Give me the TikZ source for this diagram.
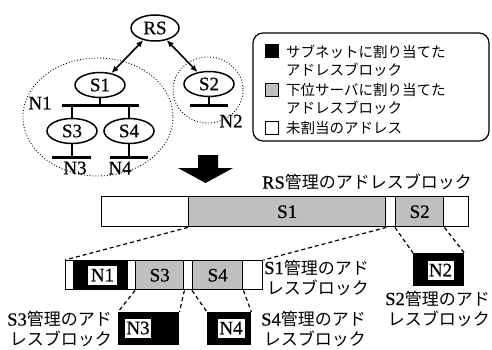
\documentclass[tikz,border=0pt]{standalone}
\usepackage{fontspec}
\setmainfont{Liberation Serif}[FakeBold=0.6]
\newfontfamily\jpf{Noto Sans CJK JP}
\usetikzlibrary{arrows.meta,shapes.geometric}
\newcommand\jl[2]{{\fontsize{18.5}{20}\selectfont #1}{\jpf\fontsize{17}{20}\selectfont #2}}
\newcommand\jr[1]{{\jpf\fontsize{17}{20}\selectfont #1}}
\begin{document}
\begin{tikzpicture}[x=1pt,y=-1pt,
  srv/.style={draw, ellipse, line width=1.5pt, minimum width=50pt, minimum height=25pt, inner sep=0pt, font=\fontsize{19}{19}\selectfont},
  bus/.style={line width=3pt},
  stem/.style={line width=2.2pt},
  twoway/.style={{Latex[length=7pt,width=6pt]}-{Latex[length=7pt,width=6pt]}, line width=1.6pt},
  zone/.style={draw, dotted, line width=0.9pt},
  tname/.style={inner sep=0pt, font=\fontsize{19}{19}\selectfont},
  seg/.style={draw, line width=1.4pt, anchor=north west, inner sep=0pt, minimum height=30pt, font=\fontsize{19}{19}\selectfont},
  sub/.style={fill=black!25},
  free/.style={fill=white},
  net/.style={fill=black},
  tag/.style={fill=white, inner sep=0pt, minimum height=19pt, font=\fontsize{19}{19}\selectfont},
  cut/.style={dash pattern=on 4pt off 3pt, line width=1.2pt},
  lab/.style={align=right, inner sep=0pt, anchor=east, font=\fontsize{17}{20}\selectfont},
  key/.style={draw, line width=1pt, minimum size=13pt, inner sep=0pt},
  ltext/.style={align=left, anchor=west, inner sep=0pt, font=\jpf\fontsize{14.5}{18.5}\selectfont}
]
\useasboundingbox (0,0) rectangle (492,350);

% ---- tree ----
\draw[zone] (98,117) ellipse [x radius=75, y radius=59];
\draw[zone] (208,90) ellipse [x radius=35, y radius=33];

\node[srv, minimum width=48pt, minimum height=26pt] (RS) at (155,28) {RS};
\node[srv] (S1) at (100,85) {S1};
\node[srv] (S2) at (209,84) {S2};
\node[srv] (S3) at (72,131) {S3};
\node[srv] (S4) at (129,131) {S4};

\draw[twoway] (RS) -- (S1);
\draw[twoway] (RS) -- (S2);

\coordinate (n1L) at (62,106);  \coordinate (n1R) at (139,106);
\coordinate (n2L) at (190,106); \coordinate (n2R) at (228,106);
\coordinate (n3L) at (52,157);  \coordinate (n3R) at (91,157);
\coordinate (n4L) at (110,157); \coordinate (n4R) at (148,157);

\draw[bus] (n1L) -- (n1R);
\draw[bus] (n2L) -- (n2R);
\draw[bus] (n3L) -- (n3R);
\draw[bus] (n4L) -- (n4R);
\draw[stem] (S1.south) -- (S1.south |- n1L);
\draw[stem] (S3.north) -- (S3.north |- n1L);
\draw[stem] (S4.north) -- (S4.north |- n1L);
\draw[stem] (S2.south) -- (S2.south |- n2L);
\draw[stem] (S3.south) -- (S3.south |- n3L);
\draw[stem] (S4.south) -- (S4.south |- n4L);

\node[tname] (N1) at (40,103) {N1};
\node[tname] (N2) at (231,121) {N2};
\node[tname] (N3) at (75,168) {N3};
\node[tname] (N4) at (120,168) {N4};

% ---- big arrow ----
\fill (198,155) -- (218,155) -- (218,168) -- (233,168) -- (205.5,183) -- (178,168) -- (198,168) -- cycle;

% ---- legend ----
\draw[line width=1.2pt, rounded corners=10pt] (253,33) rectangle (489,141);
\node[key, fill=black] (k1) at (271.5,51.5) {};
\node[key, sub] (k2) at (271.5,90.5) {};
\node[key, free] (k3) at (271.5,127.5) {};
\node[ltext] (l1) at (286,61) {サブネットに割り当てた\\アドレスブロック};
\node[ltext] (l2) at (286,99) {下位サーバに割り当てた\\アドレスブロック};
\node[ltext] (l3) at (286,127.5) {未割当のアドレス};

% ---- RS block ----
\node[inner sep=0pt, anchor=west] (rslab) at (262,182) {\jl{RS}{管理のアドレスブロック}};
\node[seg, free, minimum width=87pt] (tA) at (101,196) {};
\node[seg, sub, minimum width=197pt] (tS1) at (188,196) {S1};
\node[seg, free, minimum width=10pt] (tB) at (385,196) {};
\node[seg, sub, minimum width=48pt] (tS2) at (395,196) {S2};
\node[seg, free, minimum width=25pt] (tC) at (443,196) {};

% ---- S1 block ----
\node[seg, free, minimum width=8pt, minimum height=29pt] (bA) at (65,260) {};
\node[seg, net, minimum width=54pt, minimum height=29pt] (bN1) at (73,260) {};
\node[seg, free, minimum width=8pt, minimum height=29pt] (bB) at (127,260) {};
\node[seg, sub, minimum width=48pt, minimum height=29pt] (bS3) at (135,260) {S3};
\node[seg, free, minimum width=9pt, minimum height=29pt] (bC) at (183,260) {};
\node[seg, sub, minimum width=50pt, minimum height=29pt] (bS4) at (192,260) {S4};
\node[seg, free, minimum width=20pt, minimum height=29pt] (bD) at (242,260) {};
\node[tag, minimum width=29pt] (tN1) at (102.5,275) {N1};

% ---- network blocks ----
\node[seg, net, minimum width=50pt, minimum height=32pt] (bN2) at (413,253) {};
\node[tag, minimum width=26pt] (tN2) at (440.5,270) {N2};
\node[seg, net, minimum width=60pt, minimum height=32pt] (bN3) at (118,312) {};
\node[tag, minimum width=26pt] (tN3) at (138,328) {N3};
\node[seg, net, minimum width=43pt, minimum height=32pt] (bN4) at (207,312) {};
\node[tag, minimum width=27pt] (tN4) at (231,328) {N4};

% ---- dashed correspondences ----
\draw[cut] (tS1.south west) -- (bA.north west);
\draw[cut] (tS1.south east) -- (bD.north east);
\draw[cut] (tS2.south west) -- (bN2.north west);
\draw[cut] (tS2.south east) -- (bN2.north east);
\draw[cut] (bS3.south west) -- (bN3.north west);
\draw[cut] (bS3.south east) -- (bN3.north east);
\draw[cut] (bS4.south west) -- (bN4.north west);
\draw[cut] (bS4.south east) -- (bN4.north east);

% ---- labels ----
\node[lab] (lS1) at (369,277.5) {\jl{S1}{管理のアド}\\\jr{レスブロック}};
\node[lab] (lS2) at (490,308.5) {\jl{S2}{管理のアド}\\\jr{レスブロック}};
\node[lab] (lS3) at (112,329) {\jl{S3}{管理のアド}\\\jr{レスブロック}};
\node[lab] (lS4) at (366,329) {\jl{S4}{管理のアド}\\\jr{レスブロック}};
\end{tikzpicture}
\end{document}
